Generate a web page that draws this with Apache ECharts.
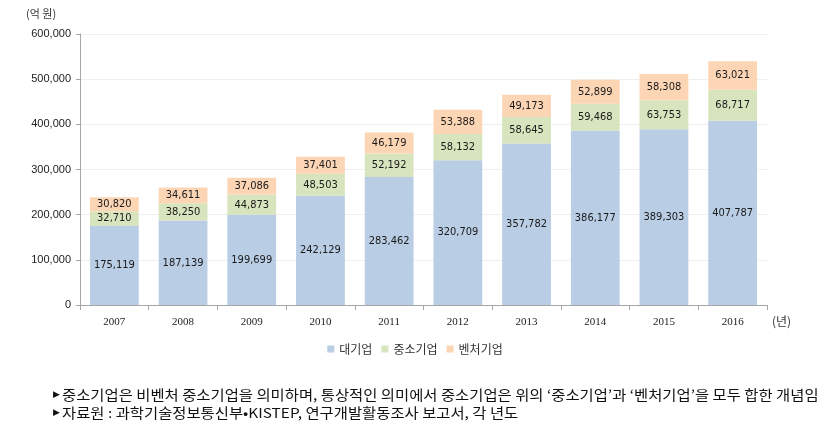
<!DOCTYPE html>
<html><head><meta charset="utf-8">
<script src="https://cdn.jsdelivr.net/npm/echarts@6/dist/echarts.min.js"></script>
<style>html,body{margin:0;padding:0;background:#fff;}#c{width:830px;height:428px;}</style>
</head><body><div id="c"></div>
<script>
const years = ['2007','2008','2009','2010','2011','2012','2013','2014','2015','2016'];
const large = [175119,187139,199699,242129,283462,320709,357782,386177,389303,407787];
const sme = [32710,38250,44873,48503,52192,58132,58645,59468,63753,68717];
const venture = [30820,34611,37086,37401,46179,53388,49173,52899,58308,63021];
const seriesNames = ['대기업','중소기업','벤처기업'];
const yTicks = [0,100000,200000,300000,400000,500000,600000];

const chart = echarts.init(document.getElementById('c'));
const fmt = v => v.toLocaleString('en-US');
const lbl = {show:true, position:'inside', color:'#1a1a1a', fontSize:11, fontFamily:'"Liberation Sans Narrow","DejaVu Sans Condensed",sans-serif', formatter:p=>fmt(p.value)};
const colors = ['#B9CDE5','#D7E4BD','#FCD5B5'];
const noteFont = '"Noto Sans CJK KR",sans-serif';
chart.setOption({
  animation:false,
  grid:{left:80,right:63,top:34,bottom:123,containLabel:false},
  legend:{bottom:68,left:'center',itemWidth:7,itemHeight:7,itemGap:9,icon:'rect',
    textStyle:{fontSize:12,color:'#333',fontFamily:noteFont},data:seriesNames},
  xAxis:{type:'category',data:years,
    axisLine:{lineStyle:{color:'#A6A6A6'}},
    axisTick:{show:true,length:5,lineStyle:{color:'#A6A6A6'}},
    axisLabel:{color:'#222',fontSize:11,margin:12,fontFamily:'"Liberation Serif",serif'}},
  yAxis:{type:'value',min:yTicks[0],max:yTicks[yTicks.length-1],interval:100000,
    axisLine:{show:true,lineStyle:{color:'#A6A6A6'}},
    axisTick:{show:true,length:4,lineStyle:{color:'#A6A6A6'}},
    splitLine:{lineStyle:{color:'#EFEFEF'}},
    axisLabel:{color:'#222',fontSize:11,margin:9,fontFamily:'"Liberation Sans Narrow",sans-serif',formatter:v=>fmt(v)}},
  series:[
    {name:seriesNames[0],type:'bar',stack:'t',data:large,barWidth:'71%',itemStyle:{color:colors[0]},label:lbl},
    {name:seriesNames[1],type:'bar',stack:'t',data:sme,itemStyle:{color:colors[1]},label:lbl},
    {name:seriesNames[2],type:'bar',stack:'t',data:venture,itemStyle:{color:colors[2]},label:lbl}
  ],
  graphic:[
    {type:'text',left:26,top:8,style:{text:'(억 원)',fontSize:11,fill:'#333',fontFamily:noteFont}},
    {type:'text',left:772,top:315,style:{text:'(년)',fontSize:12,fill:'#333',fontFamily:noteFont}},
    {type:'text',x:53,y:395,style:{text:'▶',fontSize:9,fill:'#111',fontFamily:'"DejaVu Sans",sans-serif',verticalAlign:'middle'}},
    {type:'text',x:53,y:413,style:{text:'▶',fontSize:9,fill:'#111',fontFamily:'"DejaVu Sans",sans-serif',verticalAlign:'middle'}},
    {type:'text',x:62,y:395,scaleX:1.14,style:{text:'중소기업은 비벤처 중소기업을 의미하며, 통상적인 의미에서 중소기업은 위의 ‘중소기업’과 ‘벤처기업’을 모두 합한 개념임',fontSize:13.5,fill:'#111',fontFamily:noteFont,verticalAlign:'middle'}},
    {type:'text',x:62,y:413,scaleX:1.14,style:{text:'자료원 : 과학기술정보통신부•KISTEP, 연구개발활동조사 보고서, 각 년도',fontSize:13.5,fill:'#111',fontFamily:noteFont,verticalAlign:'middle'}}
  ]
});
</script></body></html>
